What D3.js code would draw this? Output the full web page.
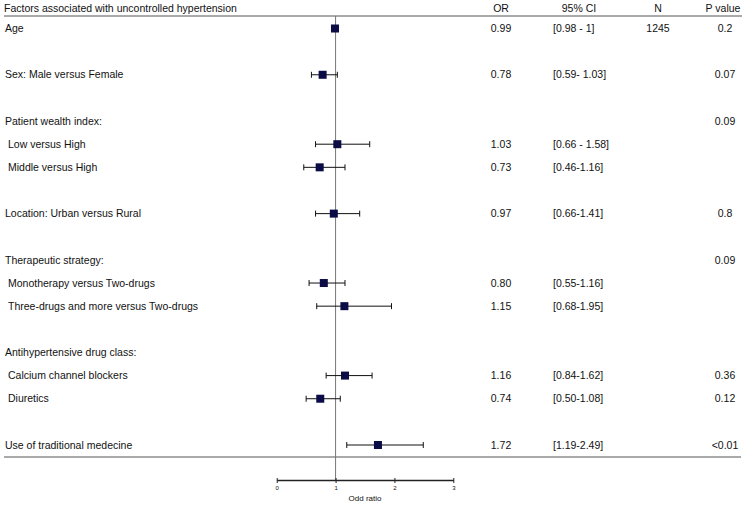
<!DOCTYPE html>
<html>
<head>
<meta charset="utf-8">
<script src="https://cdn.jsdelivr.net/npm/d3@7"></script>
<style>
  body { margin: 0; background: #fff; }
  text { font-family: "Liberation Sans", Arial, sans-serif; fill: #111; }
</style>
</head>
<body>
<script>
// rows of the forest plot ("" = blank spacer row)
const labels = ["Age", "", "Sex: Male versus Female", "", "Patient wealth index:",
  "Low versus High", "Middle versus High", "", "Location: Urban versus Rural", "",
  "Therapeutic strategy:", "Monotherapy versus Two-drugs", "Three-drugs and more versus Two-drugs", "",
  "Antihypertensive drug class:", "Calcium channel blockers", "Diuretics", "",
  "Use of traditional medecine"];
const oddsRatio = [0.99, null, 0.78, null, null, 1.03, 0.73, null, 0.97, null,
  null, 0.80, 1.15, null, null, 1.16, 0.74, null, 1.72];
const ciLow = [0.98, null, 0.59, null, null, 0.66, 0.46, null, 0.66, null,
  null, 0.55, 0.68, null, null, 0.84, 0.50, null, 1.19];
const ciHigh = [1, null, 1.03, null, null, 1.58, 1.16, null, 1.41, null,
  null, 1.16, 1.95, null, null, 1.62, 1.08, null, 2.49];
const ciText = ["[0.98 - 1]", "", "[0.59- 1.03]", "", "", "[0.66 - 1.58]", "[0.46-1.16]", "",
  "[0.66-1.41]", "", "", "[0.55-1.16]", "[0.68-1.95]", "", "", "[0.84-1.62]", "[0.50-1.08]", "", "[1.19-2.49]"];
const nText = ["1245", "", "", "", "", "", "", "", "", "", "", "", "", "", "", "", "", "", ""];
const pText = ["0.2", "", "0.07", "", "0.09", "", "", "", "0.8", "", "0.09", "", "", "", "", "0.36", "0.12", "", "<0.01"];
const headers = ["OR", "95% CI", "N", "P value"];
const xTicks = [0, 1, 2, 3];

const W = 746, H = 506;
const svg = d3.select("body").append("svg")
  .attr("width", W).attr("height", H);

const x = d3.scaleLinear().domain([0, 3]).range([276.7, 453.3]);
const y = d3.scaleLinear().domain([0, labels.length - 1]).range([28.5, 445]);

// build row objects; sub-items follow a header ending with ":"
let inGroup = false;
const rows = labels.map((lab, i) => {
  if (lab === "") inGroup = false;
  const sub = inGroup && lab !== "";
  if (lab.endsWith(":")) inGroup = true;
  return {i, lab, sub, or: oddsRatio[i], lo: ciLow[i], hi: ciHigh[i],
    ci: ciText[i], n: nText[i], p: pText[i]};
});

const fs = "10.5px";

// title + header
svg.append("text").attr("x", 4).attr("y", 8).attr("dy", "0.35em")
  .style("font-size", fs).text("Factors associated with uncontrolled hypertension");
const colX = {or: 501, ci: 579, n: 658, p: 723};
svg.selectAll("text.head").data(headers).join("text")
  .attr("class", "head")
  .attr("x", (d, i) => [colX.or, colX.ci, colX.n, colX.p][i])
  .attr("y", 8).attr("dy", "0.35em")
  .attr("text-anchor", "middle")
  .style("font-size", fs).text(d => d);

svg.append("line").attr("x1", 4).attr("x2", 742).attr("y1", 16).attr("y2", 16)
  .attr("stroke", "#555").attr("stroke-width", 1);
svg.append("line").attr("x1", 4).attr("x2", 741).attr("y1", 457).attr("y2", 457)
  .attr("stroke", "#555").attr("stroke-width", 1);

// reference line at OR = 1
svg.append("line").attr("x1", x(1)).attr("x2", x(1)).attr("y1", 16).attr("y2", 480)
  .attr("stroke", "#777").attr("stroke-width", 1);

// row labels
svg.selectAll("text.lab").data(rows.filter(d => d.lab !== "")).join("text")
  .attr("class", "lab")
  .attr("x", d => d.sub ? 8 : 5)
  .attr("y", d => y(d.i)).attr("dy", "0.35em")
  .style("font-size", fs).text(d => d.lab);

const est = rows.filter(d => d.or != null);

// OR column
svg.selectAll("text.or").data(est).join("text")
  .attr("class", "or").attr("x", colX.or).attr("y", d => y(d.i)).attr("dy", "0.35em")
  .attr("text-anchor", "middle").style("font-size", fs)
  .text(d => d3.format(".2f")(d.or));

svg.selectAll("text.ci").data(est).join("text")
  .attr("class", "ci").attr("x", 553).attr("y", d => y(d.i)).attr("dy", "0.35em")
  .style("font-size", fs).text(d => d.ci);

svg.selectAll("text.n").data(rows.filter(d => d.n)).join("text")
  .attr("class", "n").attr("x", colX.n).attr("y", d => y(d.i)).attr("dy", "0.35em")
  .attr("text-anchor", "middle").style("font-size", fs).text(d => d.n);

svg.selectAll("text.p").data(rows.filter(d => d.p)).join("text")
  .attr("class", "p").attr("x", colX.p + 2).attr("y", d => y(d.i)).attr("dy", "0.35em")
  .attr("text-anchor", "middle").style("font-size", fs).text(d => d.p);

// error bars
const bars = svg.append("g").attr("stroke", "#111").attr("stroke-width", 1);
bars.selectAll("line.ci").data(est).join("line")
  .attr("x1", d => x(d.lo)).attr("x2", d => x(d.hi))
  .attr("y1", d => y(d.i)).attr("y2", d => y(d.i));
bars.selectAll("line.capl").data(est).join("line")
  .attr("x1", d => x(d.lo)).attr("x2", d => x(d.lo))
  .attr("y1", d => y(d.i) - 3).attr("y2", d => y(d.i) + 3);
bars.selectAll("line.caph").data(est).join("line")
  .attr("x1", d => x(d.hi)).attr("x2", d => x(d.hi))
  .attr("y1", d => y(d.i) - 3).attr("y2", d => y(d.i) + 3);

// squares
const s = 8;
svg.selectAll("rect.pt").data(est).join("rect")
  .attr("x", d => x(d.or) - s / 2).attr("y", d => y(d.i) - s / 2)
  .attr("width", s).attr("height", s).attr("fill", "#0b0b45");

// x axis
const axis = svg.append("g").attr("transform", "translate(0,480)")
  .call(d3.axisBottom(x).tickValues(xTicks).tickFormat(d3.format("d")).tickSize(3).tickSizeOuter(0));
axis.select(".domain").attr("stroke", "#222").attr("stroke-width", 1.5);
axis.selectAll(".tick line").attr("stroke", "#222").attr("y1", -2);
axis.selectAll(".tick text").attr("y", 6).style("font-size", "6px").style("font-family", "Liberation Sans, Arial, sans-serif");

svg.append("text").attr("x", x(1.5)).attr("y", 498).attr("dy", "0.35em")
  .attr("text-anchor", "middle").style("font-size", "8px").text("Odd ratio");
</script>
</body>
</html>
